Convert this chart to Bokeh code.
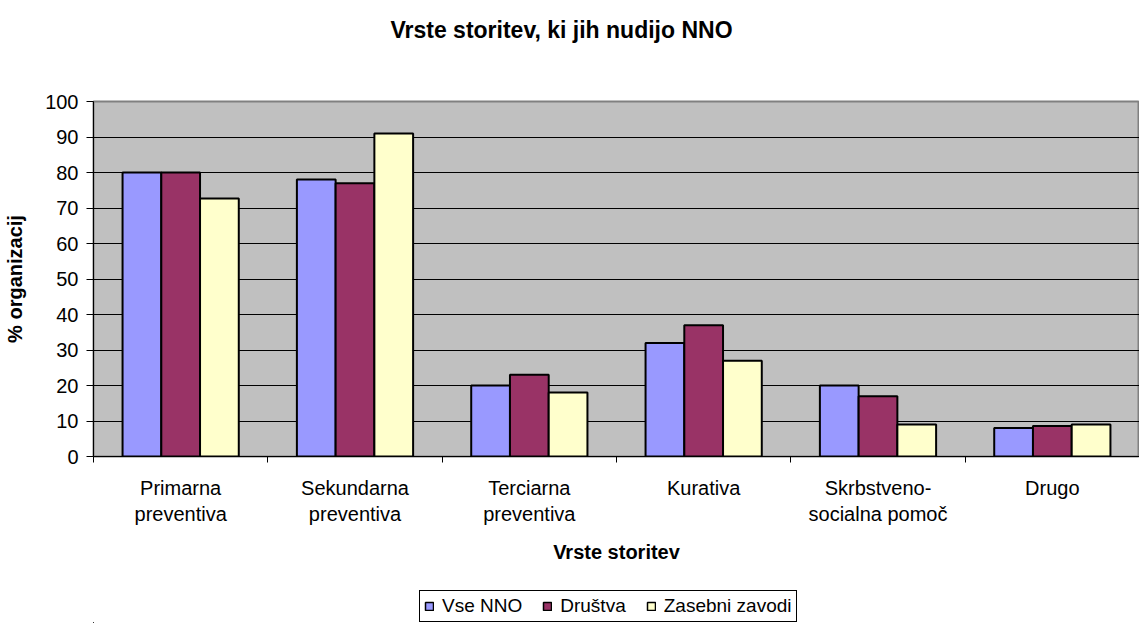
from bokeh.plotting import figure
from bokeh.models import ColumnDataSource, FixedTicker, Range1d, Legend, LegendItem, Label
from bokeh.layouts import column
from bokeh.transform import dodge
from bokeh.embed import file_html
from bokeh.resources import INLINE

# ---- data ----
categories = ["Primarna\npreventiva", "Sekundarna\npreventiva", "Terciarna\npreventiva",
              "Kurativa", "Skrbstveno-\nsocialna pomoč", "Drugo"]
vse_nno = [80, 78, 20, 32, 20, 8]
drustva = [80, 77, 23, 37, 17, 8.6]
zasebni = [72.7, 91, 18, 27, 9, 9]
series_names = ["Vse NNO", "Društva", "Zasebni zavodi"]
series_keys = ["vse", "dru", "zas"]
colors = ["#9999FF", "#993366", "#FFFFCC"]
y_ticks = list(range(0, 101, 10))
title_text = "Vrste storitev, ki jih nudijo NNO"
x_title = "Vrste storitev"
y_title = "% organizacij"

FONT = "Liberation Sans"
W = 1139
LEFT = 93  # frame left edge (frames of the stacked figures are aligned)

n = len(categories)
xc = [i + 0.5 for i in range(n)]
source = ColumnDataSource(data=dict(x=xc, vse=vse_nno, dru=drustva, zas=zasebni))
bw = 1 / 4.5

# ---------------- title strip ----------------
t = figure(width=W, height=60, x_range=Range1d(LEFT, W), y_range=Range1d(0, 60),
           x_axis_type=None, y_axis_type=None, output_backend="svg", toolbar_location=None,
           min_border=0, min_border_left=LEFT, outline_line_color=None)
t.grid.visible = False
t.add_layout(Label(x=561, y=31, text=title_text, text_align="center", text_baseline="middle",
                   text_font=FONT, text_font_size="23px", text_font_style="bold",
                   text_color="black"))

# ---------------- main chart ----------------
p = figure(width=W, height=530, x_range=Range1d(0, n), y_range=Range1d(0, 100),
           output_backend="svg", toolbar_location=None,
           min_border_left=LEFT, min_border_right=0, min_border_top=41, min_border_bottom=134)

p.background_fill_color = "#C0C0C0"
p.border_fill_color = "white"
p.outline_line_color = "#808080"
p.outline_line_width = 2

for k, (key, col) in enumerate(zip(series_keys, colors)):
    p.vbar(x=dodge("x", (k - 1) * bw), top=key, width=bw, bottom=0, source=source,
           fill_color=col, line_color="black", line_width=2)

p.xgrid.visible = False
p.ygrid.grid_line_color = "black"
p.ygrid.grid_line_alpha = 1
p.ygrid.grid_line_width = 1

xa = p.xaxis[0]
xa.ticker = FixedTicker(ticks=xc, minor_ticks=list(range(n + 1)))
xa.major_label_overrides = {x: c for x, c in zip(xc, categories)}
xa.major_tick_out = 0
xa.major_tick_in = 0
xa.minor_tick_out = 6
xa.minor_tick_in = 0
xa.minor_tick_line_color = "black"
xa.axis_line_color = "black"
xa.major_label_text_font = FONT
xa.major_label_text_font_size = "20px"
xa.major_label_text_color = "black"
xa.major_label_standoff = 14
xa.axis_label = x_title
xa.axis_label_text_font = FONT
xa.axis_label_text_font_size = "20px"
xa.axis_label_text_font_style = "bold"
xa.axis_label_text_color = "black"
xa.axis_label_standoff = 13

ya = p.yaxis[0]
ya.ticker = FixedTicker(ticks=y_ticks)
ya.major_tick_out = 7
ya.major_tick_in = 0
ya.minor_tick_out = 0
ya.minor_tick_in = 0
ya.major_tick_line_color = "black"
ya.axis_line_color = "black"
ya.major_label_text_font = FONT
ya.major_label_text_font_size = "20px"
ya.major_label_text_color = "black"
ya.major_label_standoff = 8
ya.axis_label = y_title
ya.axis_label_text_font = FONT
ya.axis_label_text_font_size = "20px"
ya.axis_label_text_font_style = "bold"
ya.axis_label_text_color = "black"
ya.axis_label_standoff = 16

# ---------------- legend strip ----------------
# same series drawn into ranges far away from the data so only the legend swatches show
lg = figure(width=W, height=33, x_range=Range1d(1000, 1001), y_range=Range1d(1000, 1001),
            x_axis_type=None, y_axis_type=None, output_backend="svg", toolbar_location=None,
            min_border=0, min_border_left=LEFT, outline_line_color=None)
lg.grid.visible = False
leg_renderers = [lg.vbar(x=dodge("x", (k - 1) * bw), top=key, width=bw, bottom=0, source=source,
                         fill_color=c, line_color="black", line_width=1.5)
                 for k, (key, c) in enumerate(zip(series_keys, colors))]
legend = Legend(items=[LegendItem(label=nm, renderers=[r]) for nm, r in zip(series_names, leg_renderers)],
                orientation="horizontal", location=(419 - LEFT, 1),
                border_line_color="black", border_line_width=1, border_line_alpha=1,
                background_fill_color="white", background_fill_alpha=1,
                label_text_font=FONT, label_text_font_size="19px", label_text_color="black",
                glyph_width=10, glyph_height=10, label_standoff=8, spacing=20,
                padding=4, margin=0)
lg.add_layout(legend)

layout = column(t, p, lg, spacing=0)
open("out.html", "w").write(file_html(layout, INLINE))
